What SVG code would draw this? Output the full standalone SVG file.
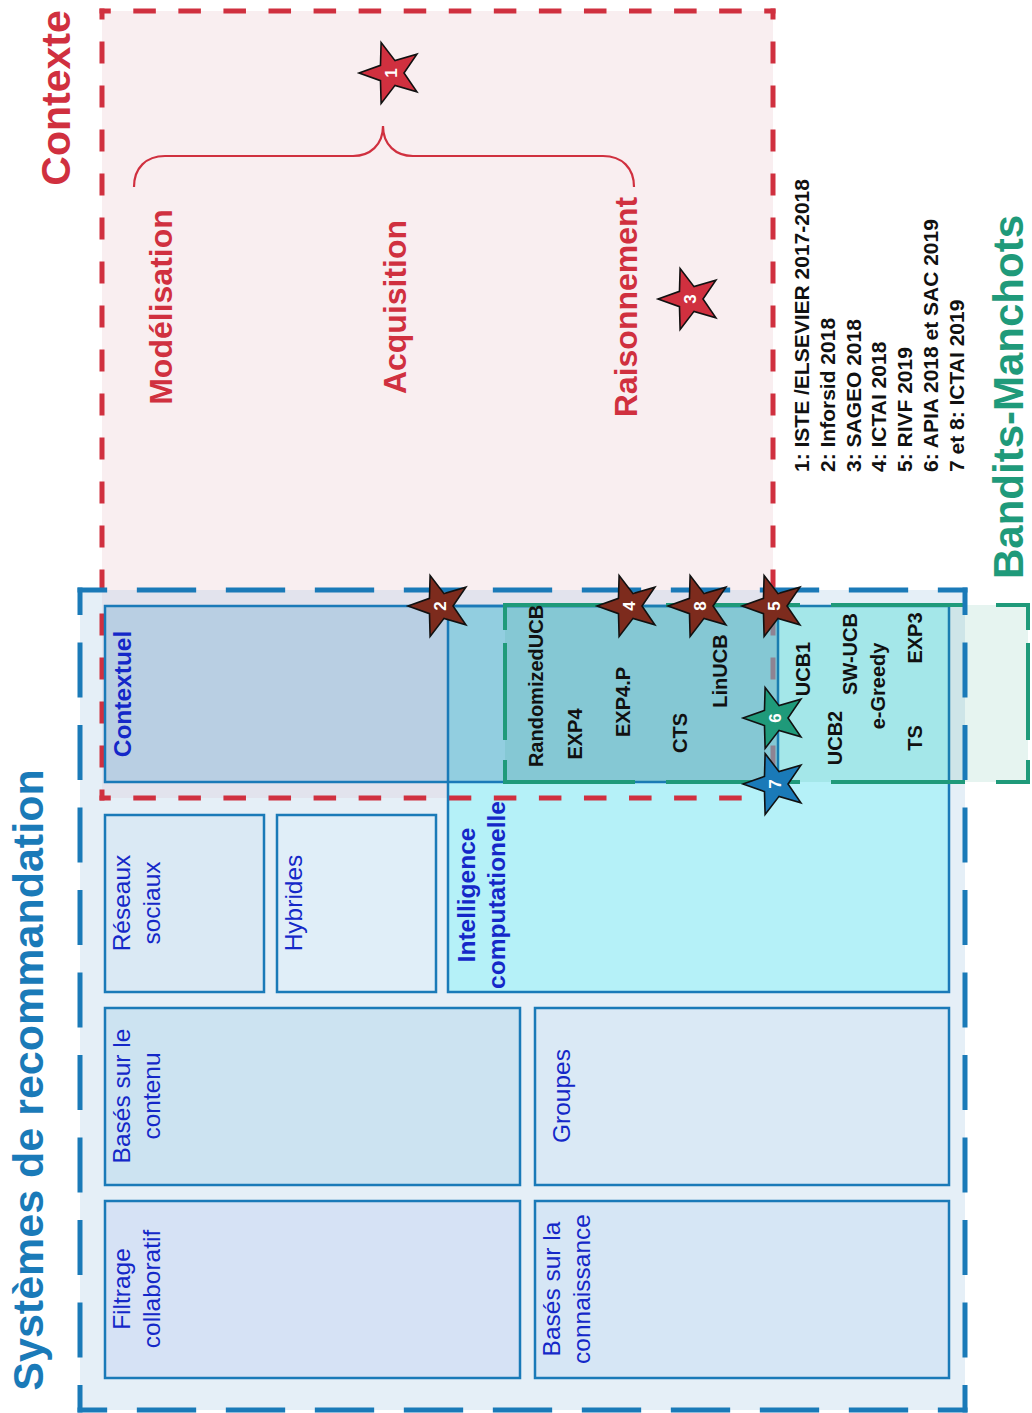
<svg xmlns="http://www.w3.org/2000/svg" width="1032" height="1413" viewBox="0 0 1032 1413">
<defs>
<style>
text{font-family:"Liberation Sans",Arial,sans-serif}
.title{font-size:42px;font-weight:bold;text-anchor:middle}
.sub{font-size:32px;font-weight:bold;fill:#d0303f;text-anchor:middle}
.lbl{font-size:24.5px;fill:#1428c8;text-anchor:middle}
.lblb{font-size:24.5px;font-weight:bold;fill:#1428c8;text-anchor:middle}
.alg{font-size:20px;font-weight:bold;fill:#111;text-anchor:middle}
.leg{font-size:21px;font-weight:bold;fill:#111}
.num{font-size:17px;font-weight:bold;fill:#fff;text-anchor:middle}
.box{stroke:#1a7ab8;stroke-width:2.5}
.star{stroke:#111;stroke-width:1.6}
.bdash{stroke:#1a7ab8;stroke-width:5;fill:none;stroke-dasharray:2 1;stroke-dashoffset:1}
.rdash{stroke:#d0303f;stroke-width:5;fill:none;stroke-dasharray:1 1;stroke-dashoffset:0.5}
.gdash{stroke:#1f9a7a;stroke-width:4;fill:none;stroke-linecap:square}
</style>
<path id="star" d="M-32,0 L-10.52,-7.64 L-9.89,-30.43 L4.02,-12.36 L25.89,-18.81 L13,0 L25.89,18.81 L4.02,12.36 L-9.89,30.43 L-10.52,7.64 Z"/>
</defs>

<g id="backgrounds">
<rect x="102" y="11" width="671" height="787" fill="#f9eef0"/>
<rect x="80" y="590" width="885" height="820" fill="#e5eff7"/>
<rect x="102" y="590" width="671" height="208" fill="#e2e3ed"/>
</g>

<g id="node-reseaux">
<rect class="box" x="105" y="815" width="159" height="177" fill="#dae9f4"/>
<text class="lbl" transform="translate(130,903) rotate(-90)">Réseaux<tspan x="0" dy="30">sociaux</tspan></text>
</g>
<g id="node-hybrides">
<rect class="box" x="277" y="815" width="159" height="177" fill="#e0eef8"/>
<text class="lbl" transform="translate(302,903) rotate(-90)">Hybrides</text>
</g>
<g id="node-contenu">
<rect class="box" x="105" y="1008" width="415" height="177" fill="#cce3f1"/>
<text class="lbl" transform="translate(130,1096) rotate(-90)">Basés sur le<tspan x="0" dy="30">contenu</tspan></text>
</g>
<g id="node-groupes">
<rect class="box" x="535" y="1008" width="414" height="177" fill="#dae9f5"/>
<text class="lbl" transform="translate(570,1096) rotate(-90)">Groupes</text>
</g>
<g id="node-filtrage">
<rect class="box" x="105" y="1201" width="415" height="177" fill="#d6e2f5"/>
<text class="lbl" transform="translate(130,1289) rotate(-90)">Filtrage<tspan x="0" dy="30">collaboratif</tspan></text>
</g>
<g id="node-connaissance">
<rect class="box" x="535" y="1201" width="414" height="177" fill="#d6e6f5"/>
<text class="lbl" transform="translate(560,1289) rotate(-90)">Basés sur la<tspan x="0" dy="30">connaissance</tspan></text>
</g>

<g id="node-intelligence-fill">
<rect x="448" y="606" width="501" height="386" fill="#b5f1f8"/>
</g>

<g id="contexte-border">
<line class="rdash" x1="99.5" y1="11" x2="775.5" y2="11" pathLength="30"/>
<line class="rdash" x1="773" y1="8.5" x2="773" y2="800.5" pathLength="36"/>
<line class="rdash" x1="775.5" y1="798" x2="99.5" y2="798" pathLength="30"/>
<line class="rdash" x1="102" y1="800.5" x2="102" y2="8.5" pathLength="36"/>
</g>

<g id="node-contextuel">
<rect x="105" y="606" width="343" height="176" fill="#9ec2dc" fill-opacity="0.6"/>
<rect x="448" y="606" width="330" height="176" fill="#7cb8d0" fill-opacity="0.6"/>
<rect class="box" x="105" y="606" width="673" height="176" fill="none"/>
<text class="lblb" transform="translate(131,694) rotate(-90)">Contextuel</text>
</g>

<g id="node-intelligence">
<rect class="box" x="448" y="606" width="501" height="386" fill="none"/>
<text class="lblb" transform="translate(475,895) rotate(-90)">Intelligence<tspan x="0" dy="30">computationelle</tspan></text>
</g>

<g id="node-bandits">
<rect x="505" y="605" width="523" height="177" fill="#1f9a7a" fill-opacity="0.11"/>
<path class="gdash" d="M505,605 H633 M668,605 H798 M833,605 H963 M998,605 H1028 V628 M1028,645 V738 M1028,762 V782 H998 M963,782 H833 M798,782 H668 M633,782 H505 V762 M505,738 V645 M505,628 V605"/>
<text class="title" fill="#1f9a7a" transform="translate(1023,397) rotate(-90)">Bandits-Manchots</text>
</g>

<g id="systemes-border">
<line class="bdash" x1="77.5" y1="590" x2="967.5" y2="590" pathLength="30"/>
<line class="bdash" x1="965" y1="587.5" x2="965" y2="1412.5" pathLength="30"/>
<line class="bdash" x1="967.5" y1="1410" x2="77.5" y2="1410" pathLength="30"/>
<line class="bdash" x1="80" y1="1412.5" x2="80" y2="587.5" pathLength="30"/>
<text class="title" fill="#1a7ab8" style="font-size:43px" transform="translate(43,1080) rotate(-90)">Systèmes de recommandation</text>
</g>

<g id="contexte-labels">
<text class="title" fill="#d0303f" style="font-size:41px" transform="translate(70,98) rotate(-90)">Contexte</text>
<path d="M134,187 C134,168 146,156 165,156 L353,156 C370,156 383,145 383,126 C383,145 396,156 413,156 L603,156 C622,156 634,168 634,187" fill="none" stroke="#d0303f" stroke-width="2.2"/>
<text class="sub" transform="translate(172,307) rotate(-90)">Modélisation</text>
<text class="sub" transform="translate(406,307) rotate(-90)">Acquisition</text>
<text class="sub" transform="translate(637,307) rotate(-90)">Raisonnement</text>
</g>

<g id="algorithms">
<text class="alg" transform="translate(543,686) rotate(-90)">RandomizedUCB</text>
<text class="alg" transform="translate(582,734) rotate(-90)">EXP4</text>
<text class="alg" transform="translate(630,702) rotate(-90)">EXP4.P</text>
<text class="alg" transform="translate(687,733) rotate(-90)">CTS</text>
<text class="alg" transform="translate(727,671) rotate(-90)">LinUCB</text>
<text class="alg" transform="translate(810,669) rotate(-90)">UCB1</text>
<text class="alg" transform="translate(842,738) rotate(-90)">UCB2</text>
<text class="alg" transform="translate(857,654) rotate(-90)">SW-UCB</text>
<text class="alg" transform="translate(885,686) rotate(-90)">e-Greedy</text>
<text class="alg" transform="translate(922,738) rotate(-90)">TS</text>
<text class="alg" transform="translate(922,638) rotate(-90)">EXP3</text>
</g>

<g id="legend">
<text class="leg" transform="translate(809,472) rotate(-90)">1: ISTE /ELSEVIER 2017-2018</text>
<text class="leg" transform="translate(835,472) rotate(-90)">2: Inforsid 2018</text>
<text class="leg" transform="translate(861,472) rotate(-90)">3: SAGEO 2018</text>
<text class="leg" transform="translate(886,472) rotate(-90)">4: ICTAI 2018</text>
<text class="leg" transform="translate(912,472) rotate(-90)">5: RIVF 2019</text>
<text class="leg" transform="translate(938,472) rotate(-90)">6: APIA 2018 et SAC 2019</text>
<text class="leg" transform="translate(964,472) rotate(-90)">7 et 8: ICTAI 2019</text>
</g>

<g id="stars">
<g id="star-1" transform="translate(391,73)"><use href="#star" class="star" fill="#d0303f"/><text class="num" transform="rotate(-90)" y="6">1</text></g>
<g id="star-3" transform="translate(690,299)"><use href="#star" class="star" fill="#d0303f"/><text class="num" transform="rotate(-90)" y="6">3</text></g>
<g id="star-2" transform="translate(440,606)"><use href="#star" class="star" fill="#7d2b1d"/><text class="num" transform="rotate(-90)" y="6">2</text></g>
<g id="star-4" transform="translate(629,606)"><use href="#star" class="star" fill="#7d2b1d"/><text class="num" transform="rotate(-90)" y="6">4</text></g>
<g id="star-8" transform="translate(700,606)"><use href="#star" class="star" fill="#7d2b1d"/><text class="num" transform="rotate(-90)" y="6">8</text></g>
<g id="star-5" transform="translate(774,606)"><use href="#star" class="star" fill="#7d2b1d"/><text class="num" transform="rotate(-90)" y="6">5</text></g>
<g id="star-6" transform="translate(775,718)"><use href="#star" class="star" fill="#1f9a7a"/><text class="num" transform="rotate(-90)" y="6">6</text></g>
<g id="star-7" transform="translate(775,784)"><use href="#star" class="star" fill="#1a7ab8"/><text class="num" transform="rotate(-90)" y="6">7</text></g>
</g>
</svg>
